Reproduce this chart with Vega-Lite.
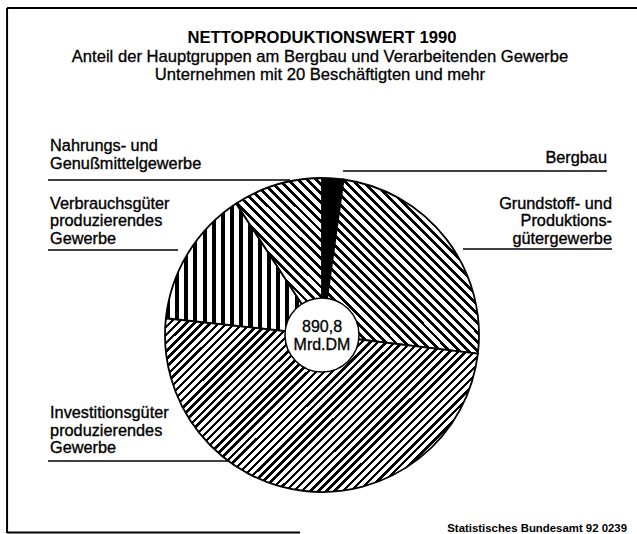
{
"$schema":"https://vega.github.io/schema/vega-lite/v6.json",
"width":314,"height":314,"autosize":"none",
"padding":{"left":165,"top":178,"right":158,"bottom":42},
"background":"#ffffff",
"config":{"view":{"stroke":null},"font":"Liberation Sans"},
"data":{"values":[
{"nr":1,"cat":"Bergbau","label":["Bergbau"],"anteil":2.2},
{"nr":2,"cat":"Grundstoff- und Produktionsgütergewerbe","label":["Grundstoff- und","Produktions-","gütergewerbe"],"anteil":24.7},
{"nr":3,"cat":"Investitionsgüter produzierendes Gewerbe","label":["Investitionsgüter","produzierendes","Gewerbe"],"anteil":49.8},
{"nr":4,"cat":"Verbrauchsgüter produzierendes Gewerbe","label":["Verbrauchsgüter","produzierendes","Gewerbe"],"anteil":14.1},
{"nr":5,"cat":"Nahrungs- und Genußmittelgewerbe","label":["Nahrungs- und","Genußmittelgewerbe"],"anteil":9.2}
]},
"layer":[
{"data":{"values":[{}]},"mark":{"type":"rule","stroke":"#000","strokeWidth":2},"encoding":{"x":{"datum":-2.006,"type":"quantitative","scale":{"domain":[-1,1],"nice":false,"zero":false},"axis":null},"y":{"datum":2.083,"type":"quantitative","scale":{"domain":[-1,1],"nice":false,"zero":false},"axis":null},"y2":{"datum":-1.261}}},
{"data":{"values":[{}]},"mark":{"type":"rule","stroke":"#000","strokeWidth":2},"encoding":{"x":{"datum":-2.006,"type":"quantitative","scale":{"domain":[-1,1],"nice":false,"zero":false},"axis":null},"x2":{"datum":2.1},"y":{"datum":2.083,"type":"quantitative","scale":{"domain":[-1,1],"nice":false,"zero":false},"axis":null}}},
{"data":{"values":[{}]},"mark":{"type":"rule","stroke":"#000","strokeWidth":2},"encoding":{"x":{"datum":-2.006,"type":"quantitative","scale":{"domain":[-1,1],"nice":false,"zero":false},"axis":null},"x2":{"datum":-0.14},"y":{"datum":-1.258,"type":"quantitative","scale":{"domain":[-1,1],"nice":false,"zero":false},"axis":null}}},
{"mark":{"type":"arc","stroke":"#000","strokeWidth":1.8},
"encoding":{
"theta":{"field":"anteil","type":"quantitative","stack":true},
"order":{"field":"nr","type":"quantitative"},
"detail":{"field":"cat","type":"nominal"},
"fill":{"condition":[
{"test":"datum.nr === 2","value":{"gradient":"linear","x1":0,"y1":1,"x2":0.946,"y2":-0.048,"stops":[
{"offset":0,"color":"#000"},{"offset":0.012,"color":"#000"},{"offset":0.012,"color":"#fff"},{"offset":0.028,"color":"#fff"},
{"offset":0.028,"color":"#000"},{"offset":0.04,"color":"#000"},{"offset":0.04,"color":"#fff"},{"offset":0.056,"color":"#fff"},
{"offset":0.056,"color":"#000"},{"offset":0.068,"color":"#000"},{"offset":0.068,"color":"#fff"},{"offset":0.083,"color":"#fff"},
{"offset":0.083,"color":"#000"},{"offset":0.095,"color":"#000"},{"offset":0.095,"color":"#fff"},{"offset":0.111,"color":"#fff"},
{"offset":0.111,"color":"#000"},{"offset":0.123,"color":"#000"},{"offset":0.123,"color":"#fff"},{"offset":0.139,"color":"#fff"},
{"offset":0.139,"color":"#000"},{"offset":0.151,"color":"#000"},{"offset":0.151,"color":"#fff"},{"offset":0.167,"color":"#fff"},
{"offset":0.167,"color":"#000"},{"offset":0.179,"color":"#000"},{"offset":0.179,"color":"#fff"},{"offset":0.194,"color":"#fff"},
{"offset":0.194,"color":"#000"},{"offset":0.206,"color":"#000"},{"offset":0.206,"color":"#fff"},{"offset":0.222,"color":"#fff"},
{"offset":0.222,"color":"#000"},{"offset":0.234,"color":"#000"},{"offset":0.234,"color":"#fff"},{"offset":0.25,"color":"#fff"},
{"offset":0.25,"color":"#000"},{"offset":0.262,"color":"#000"},{"offset":0.262,"color":"#fff"},{"offset":0.278,"color":"#fff"},
{"offset":0.278,"color":"#000"},{"offset":0.29,"color":"#000"},{"offset":0.29,"color":"#fff"},{"offset":0.306,"color":"#fff"},
{"offset":0.306,"color":"#000"},{"offset":0.318,"color":"#000"},{"offset":0.318,"color":"#fff"},{"offset":0.333,"color":"#fff"},
{"offset":0.333,"color":"#000"},{"offset":0.345,"color":"#000"},{"offset":0.345,"color":"#fff"},{"offset":0.361,"color":"#fff"},
{"offset":0.361,"color":"#000"},{"offset":0.373,"color":"#000"},{"offset":0.373,"color":"#fff"},{"offset":0.389,"color":"#fff"},
{"offset":0.389,"color":"#000"},{"offset":0.401,"color":"#000"},{"offset":0.401,"color":"#fff"},{"offset":0.417,"color":"#fff"},
{"offset":0.417,"color":"#000"},{"offset":0.429,"color":"#000"},{"offset":0.429,"color":"#fff"},{"offset":0.444,"color":"#fff"},
{"offset":0.444,"color":"#000"},{"offset":0.456,"color":"#000"},{"offset":0.456,"color":"#fff"},{"offset":0.472,"color":"#fff"},
{"offset":0.472,"color":"#000"},{"offset":0.484,"color":"#000"},{"offset":0.484,"color":"#fff"},{"offset":0.5,"color":"#fff"},
{"offset":0.5,"color":"#000"},{"offset":0.512,"color":"#000"},{"offset":0.512,"color":"#fff"},{"offset":0.528,"color":"#fff"},
{"offset":0.528,"color":"#000"},{"offset":0.54,"color":"#000"},{"offset":0.54,"color":"#fff"},{"offset":0.556,"color":"#fff"},
{"offset":0.556,"color":"#000"},{"offset":0.568,"color":"#000"},{"offset":0.568,"color":"#fff"},{"offset":0.583,"color":"#fff"},
{"offset":0.583,"color":"#000"},{"offset":0.595,"color":"#000"},{"offset":0.595,"color":"#fff"},{"offset":0.611,"color":"#fff"},
{"offset":0.611,"color":"#000"},{"offset":0.623,"color":"#000"},{"offset":0.623,"color":"#fff"},{"offset":0.639,"color":"#fff"},
{"offset":0.639,"color":"#000"},{"offset":0.651,"color":"#000"},{"offset":0.651,"color":"#fff"},{"offset":0.667,"color":"#fff"},
{"offset":0.667,"color":"#000"},{"offset":0.679,"color":"#000"},{"offset":0.679,"color":"#fff"},{"offset":0.694,"color":"#fff"},
{"offset":0.694,"color":"#000"},{"offset":0.706,"color":"#000"},{"offset":0.706,"color":"#fff"},{"offset":0.722,"color":"#fff"},
{"offset":0.722,"color":"#000"},{"offset":0.734,"color":"#000"},{"offset":0.734,"color":"#fff"},{"offset":0.75,"color":"#fff"},
{"offset":0.75,"color":"#000"},{"offset":0.762,"color":"#000"},{"offset":0.762,"color":"#fff"},{"offset":0.778,"color":"#fff"},
{"offset":0.778,"color":"#000"},{"offset":0.79,"color":"#000"},{"offset":0.79,"color":"#fff"},{"offset":0.806,"color":"#fff"},
{"offset":0.806,"color":"#000"},{"offset":0.818,"color":"#000"},{"offset":0.818,"color":"#fff"},{"offset":0.833,"color":"#fff"},
{"offset":0.833,"color":"#000"},{"offset":0.845,"color":"#000"},{"offset":0.845,"color":"#fff"},{"offset":0.861,"color":"#fff"},
{"offset":0.861,"color":"#000"},{"offset":0.873,"color":"#000"},{"offset":0.873,"color":"#fff"},{"offset":0.889,"color":"#fff"},
{"offset":0.889,"color":"#000"},{"offset":0.901,"color":"#000"},{"offset":0.901,"color":"#fff"},{"offset":0.917,"color":"#fff"},
{"offset":0.917,"color":"#000"},{"offset":0.929,"color":"#000"},{"offset":0.929,"color":"#fff"},{"offset":0.944,"color":"#fff"},
{"offset":0.944,"color":"#000"},{"offset":0.956,"color":"#000"},{"offset":0.956,"color":"#fff"},{"offset":0.972,"color":"#fff"},
{"offset":0.972,"color":"#000"},{"offset":0.984,"color":"#000"},{"offset":0.984,"color":"#fff"},{"offset":1,"color":"#fff"}
]}},
{"test":"datum.nr === 3","value":{"gradient":"linear","x1":0,"y1":0,"x2":1.189,"y2":0.661,"stops":[
{"offset":0,"color":"#000"},{"offset":0.007,"color":"#000"},{"offset":0.007,"color":"#fff"},{"offset":0.017,"color":"#fff"},
{"offset":0.017,"color":"#000"},{"offset":0.024,"color":"#000"},{"offset":0.024,"color":"#fff"},{"offset":0.033,"color":"#fff"},
{"offset":0.033,"color":"#000"},{"offset":0.04,"color":"#000"},{"offset":0.04,"color":"#fff"},{"offset":0.05,"color":"#fff"},
{"offset":0.05,"color":"#000"},{"offset":0.057,"color":"#000"},{"offset":0.057,"color":"#fff"},{"offset":0.067,"color":"#fff"},
{"offset":0.067,"color":"#000"},{"offset":0.074,"color":"#000"},{"offset":0.074,"color":"#fff"},{"offset":0.083,"color":"#fff"},
{"offset":0.083,"color":"#000"},{"offset":0.09,"color":"#000"},{"offset":0.09,"color":"#fff"},{"offset":0.1,"color":"#fff"},
{"offset":0.1,"color":"#000"},{"offset":0.107,"color":"#000"},{"offset":0.107,"color":"#fff"},{"offset":0.117,"color":"#fff"},
{"offset":0.117,"color":"#000"},{"offset":0.124,"color":"#000"},{"offset":0.124,"color":"#fff"},{"offset":0.133,"color":"#fff"},
{"offset":0.133,"color":"#000"},{"offset":0.14,"color":"#000"},{"offset":0.14,"color":"#fff"},{"offset":0.15,"color":"#fff"},
{"offset":0.15,"color":"#000"},{"offset":0.157,"color":"#000"},{"offset":0.157,"color":"#fff"},{"offset":0.167,"color":"#fff"},
{"offset":0.167,"color":"#000"},{"offset":0.174,"color":"#000"},{"offset":0.174,"color":"#fff"},{"offset":0.183,"color":"#fff"},
{"offset":0.183,"color":"#000"},{"offset":0.19,"color":"#000"},{"offset":0.19,"color":"#fff"},{"offset":0.2,"color":"#fff"},
{"offset":0.2,"color":"#000"},{"offset":0.207,"color":"#000"},{"offset":0.207,"color":"#fff"},{"offset":0.217,"color":"#fff"},
{"offset":0.217,"color":"#000"},{"offset":0.224,"color":"#000"},{"offset":0.224,"color":"#fff"},{"offset":0.233,"color":"#fff"},
{"offset":0.233,"color":"#000"},{"offset":0.24,"color":"#000"},{"offset":0.24,"color":"#fff"},{"offset":0.25,"color":"#fff"},
{"offset":0.25,"color":"#000"},{"offset":0.257,"color":"#000"},{"offset":0.257,"color":"#fff"},{"offset":0.267,"color":"#fff"},
{"offset":0.267,"color":"#000"},{"offset":0.274,"color":"#000"},{"offset":0.274,"color":"#fff"},{"offset":0.283,"color":"#fff"},
{"offset":0.283,"color":"#000"},{"offset":0.29,"color":"#000"},{"offset":0.29,"color":"#fff"},{"offset":0.3,"color":"#fff"},
{"offset":0.3,"color":"#000"},{"offset":0.307,"color":"#000"},{"offset":0.307,"color":"#fff"},{"offset":0.317,"color":"#fff"},
{"offset":0.317,"color":"#000"},{"offset":0.324,"color":"#000"},{"offset":0.324,"color":"#fff"},{"offset":0.333,"color":"#fff"},
{"offset":0.333,"color":"#000"},{"offset":0.34,"color":"#000"},{"offset":0.34,"color":"#fff"},{"offset":0.35,"color":"#fff"},
{"offset":0.35,"color":"#000"},{"offset":0.357,"color":"#000"},{"offset":0.357,"color":"#fff"},{"offset":0.367,"color":"#fff"},
{"offset":0.367,"color":"#000"},{"offset":0.374,"color":"#000"},{"offset":0.374,"color":"#fff"},{"offset":0.383,"color":"#fff"},
{"offset":0.383,"color":"#000"},{"offset":0.39,"color":"#000"},{"offset":0.39,"color":"#fff"},{"offset":0.4,"color":"#fff"},
{"offset":0.4,"color":"#000"},{"offset":0.407,"color":"#000"},{"offset":0.407,"color":"#fff"},{"offset":0.417,"color":"#fff"},
{"offset":0.417,"color":"#000"},{"offset":0.424,"color":"#000"},{"offset":0.424,"color":"#fff"},{"offset":0.433,"color":"#fff"},
{"offset":0.433,"color":"#000"},{"offset":0.44,"color":"#000"},{"offset":0.44,"color":"#fff"},{"offset":0.45,"color":"#fff"},
{"offset":0.45,"color":"#000"},{"offset":0.457,"color":"#000"},{"offset":0.457,"color":"#fff"},{"offset":0.467,"color":"#fff"},
{"offset":0.467,"color":"#000"},{"offset":0.474,"color":"#000"},{"offset":0.474,"color":"#fff"},{"offset":0.483,"color":"#fff"},
{"offset":0.483,"color":"#000"},{"offset":0.49,"color":"#000"},{"offset":0.49,"color":"#fff"},{"offset":0.5,"color":"#fff"},
{"offset":0.5,"color":"#000"},{"offset":0.507,"color":"#000"},{"offset":0.507,"color":"#fff"},{"offset":0.517,"color":"#fff"},
{"offset":0.517,"color":"#000"},{"offset":0.524,"color":"#000"},{"offset":0.524,"color":"#fff"},{"offset":0.533,"color":"#fff"},
{"offset":0.533,"color":"#000"},{"offset":0.54,"color":"#000"},{"offset":0.54,"color":"#fff"},{"offset":0.55,"color":"#fff"},
{"offset":0.55,"color":"#000"},{"offset":0.557,"color":"#000"},{"offset":0.557,"color":"#fff"},{"offset":0.567,"color":"#fff"},
{"offset":0.567,"color":"#000"},{"offset":0.574,"color":"#000"},{"offset":0.574,"color":"#fff"},{"offset":0.583,"color":"#fff"},
{"offset":0.583,"color":"#000"},{"offset":0.59,"color":"#000"},{"offset":0.59,"color":"#fff"},{"offset":0.6,"color":"#fff"},
{"offset":0.6,"color":"#000"},{"offset":0.607,"color":"#000"},{"offset":0.607,"color":"#fff"},{"offset":0.617,"color":"#fff"},
{"offset":0.617,"color":"#000"},{"offset":0.624,"color":"#000"},{"offset":0.624,"color":"#fff"},{"offset":0.633,"color":"#fff"},
{"offset":0.633,"color":"#000"},{"offset":0.64,"color":"#000"},{"offset":0.64,"color":"#fff"},{"offset":0.65,"color":"#fff"},
{"offset":0.65,"color":"#000"},{"offset":0.657,"color":"#000"},{"offset":0.657,"color":"#fff"},{"offset":0.667,"color":"#fff"},
{"offset":0.667,"color":"#000"},{"offset":0.674,"color":"#000"},{"offset":0.674,"color":"#fff"},{"offset":0.683,"color":"#fff"},
{"offset":0.683,"color":"#000"},{"offset":0.69,"color":"#000"},{"offset":0.69,"color":"#fff"},{"offset":0.7,"color":"#fff"},
{"offset":0.7,"color":"#000"},{"offset":0.707,"color":"#000"},{"offset":0.707,"color":"#fff"},{"offset":0.717,"color":"#fff"},
{"offset":0.717,"color":"#000"},{"offset":0.724,"color":"#000"},{"offset":0.724,"color":"#fff"},{"offset":0.733,"color":"#fff"},
{"offset":0.733,"color":"#000"},{"offset":0.74,"color":"#000"},{"offset":0.74,"color":"#fff"},{"offset":0.75,"color":"#fff"},
{"offset":0.75,"color":"#000"},{"offset":0.757,"color":"#000"},{"offset":0.757,"color":"#fff"},{"offset":0.767,"color":"#fff"},
{"offset":0.767,"color":"#000"},{"offset":0.774,"color":"#000"},{"offset":0.774,"color":"#fff"},{"offset":0.783,"color":"#fff"},
{"offset":0.783,"color":"#000"},{"offset":0.79,"color":"#000"},{"offset":0.79,"color":"#fff"},{"offset":0.8,"color":"#fff"},
{"offset":0.8,"color":"#000"},{"offset":0.807,"color":"#000"},{"offset":0.807,"color":"#fff"},{"offset":0.817,"color":"#fff"},
{"offset":0.817,"color":"#000"},{"offset":0.824,"color":"#000"},{"offset":0.824,"color":"#fff"},{"offset":0.833,"color":"#fff"},
{"offset":0.833,"color":"#000"},{"offset":0.84,"color":"#000"},{"offset":0.84,"color":"#fff"},{"offset":0.85,"color":"#fff"},
{"offset":0.85,"color":"#000"},{"offset":0.857,"color":"#000"},{"offset":0.857,"color":"#fff"},{"offset":0.867,"color":"#fff"},
{"offset":0.867,"color":"#000"},{"offset":0.874,"color":"#000"},{"offset":0.874,"color":"#fff"},{"offset":0.883,"color":"#fff"},
{"offset":0.883,"color":"#000"},{"offset":0.89,"color":"#000"},{"offset":0.89,"color":"#fff"},{"offset":0.9,"color":"#fff"},
{"offset":0.9,"color":"#000"},{"offset":0.907,"color":"#000"},{"offset":0.907,"color":"#fff"},{"offset":0.917,"color":"#fff"},
{"offset":0.917,"color":"#000"},{"offset":0.924,"color":"#000"},{"offset":0.924,"color":"#fff"},{"offset":0.933,"color":"#fff"},
{"offset":0.933,"color":"#000"},{"offset":0.94,"color":"#000"},{"offset":0.94,"color":"#fff"},{"offset":0.95,"color":"#fff"},
{"offset":0.95,"color":"#000"},{"offset":0.957,"color":"#000"},{"offset":0.957,"color":"#fff"},{"offset":0.967,"color":"#fff"},
{"offset":0.967,"color":"#000"},{"offset":0.974,"color":"#000"},{"offset":0.974,"color":"#fff"},{"offset":0.983,"color":"#fff"},
{"offset":0.983,"color":"#000"},{"offset":0.99,"color":"#000"},{"offset":0.99,"color":"#fff"},{"offset":1,"color":"#fff"}
]}},
{"test":"datum.nr === 4","value":{"gradient":"linear","x1":0,"y1":0,"x2":1,"y2":0,"stops":[
{"offset":0,"color":"#000"},{"offset":0.026,"color":"#000"},{"offset":0.026,"color":"#fff"},{"offset":0.059,"color":"#fff"},
{"offset":0.059,"color":"#000"},{"offset":0.085,"color":"#000"},{"offset":0.085,"color":"#fff"},{"offset":0.118,"color":"#fff"},
{"offset":0.118,"color":"#000"},{"offset":0.144,"color":"#000"},{"offset":0.144,"color":"#fff"},{"offset":0.176,"color":"#fff"},
{"offset":0.176,"color":"#000"},{"offset":0.202,"color":"#000"},{"offset":0.202,"color":"#fff"},{"offset":0.235,"color":"#fff"},
{"offset":0.235,"color":"#000"},{"offset":0.261,"color":"#000"},{"offset":0.261,"color":"#fff"},{"offset":0.294,"color":"#fff"},
{"offset":0.294,"color":"#000"},{"offset":0.32,"color":"#000"},{"offset":0.32,"color":"#fff"},{"offset":0.353,"color":"#fff"},
{"offset":0.353,"color":"#000"},{"offset":0.379,"color":"#000"},{"offset":0.379,"color":"#fff"},{"offset":0.412,"color":"#fff"},
{"offset":0.412,"color":"#000"},{"offset":0.438,"color":"#000"},{"offset":0.438,"color":"#fff"},{"offset":0.471,"color":"#fff"},
{"offset":0.471,"color":"#000"},{"offset":0.497,"color":"#000"},{"offset":0.497,"color":"#fff"},{"offset":0.529,"color":"#fff"},
{"offset":0.529,"color":"#000"},{"offset":0.555,"color":"#000"},{"offset":0.555,"color":"#fff"},{"offset":0.588,"color":"#fff"},
{"offset":0.588,"color":"#000"},{"offset":0.614,"color":"#000"},{"offset":0.614,"color":"#fff"},{"offset":0.647,"color":"#fff"},
{"offset":0.647,"color":"#000"},{"offset":0.673,"color":"#000"},{"offset":0.673,"color":"#fff"},{"offset":0.706,"color":"#fff"},
{"offset":0.706,"color":"#000"},{"offset":0.732,"color":"#000"},{"offset":0.732,"color":"#fff"},{"offset":0.765,"color":"#fff"},
{"offset":0.765,"color":"#000"},{"offset":0.791,"color":"#000"},{"offset":0.791,"color":"#fff"},{"offset":0.824,"color":"#fff"},
{"offset":0.824,"color":"#000"},{"offset":0.85,"color":"#000"},{"offset":0.85,"color":"#fff"},{"offset":0.882,"color":"#fff"},
{"offset":0.882,"color":"#000"},{"offset":0.908,"color":"#000"},{"offset":0.908,"color":"#fff"},{"offset":0.941,"color":"#fff"},
{"offset":0.941,"color":"#000"},{"offset":0.967,"color":"#000"},{"offset":0.967,"color":"#fff"},{"offset":1,"color":"#fff"}
]}},
{"test":"datum.nr === 5","value":{"gradient":"linear","x1":0,"y1":1,"x2":0.649,"y2":-0.192,"stops":[
{"offset":0,"color":"#000"},{"offset":0.016,"color":"#000"},{"offset":0.016,"color":"#fff"},{"offset":0.038,"color":"#fff"},
{"offset":0.038,"color":"#000"},{"offset":0.054,"color":"#000"},{"offset":0.054,"color":"#fff"},{"offset":0.077,"color":"#fff"},
{"offset":0.077,"color":"#000"},{"offset":0.093,"color":"#000"},{"offset":0.093,"color":"#fff"},{"offset":0.115,"color":"#fff"},
{"offset":0.115,"color":"#000"},{"offset":0.131,"color":"#000"},{"offset":0.131,"color":"#fff"},{"offset":0.154,"color":"#fff"},
{"offset":0.154,"color":"#000"},{"offset":0.17,"color":"#000"},{"offset":0.17,"color":"#fff"},{"offset":0.192,"color":"#fff"},
{"offset":0.192,"color":"#000"},{"offset":0.208,"color":"#000"},{"offset":0.208,"color":"#fff"},{"offset":0.231,"color":"#fff"},
{"offset":0.231,"color":"#000"},{"offset":0.247,"color":"#000"},{"offset":0.247,"color":"#fff"},{"offset":0.269,"color":"#fff"},
{"offset":0.269,"color":"#000"},{"offset":0.285,"color":"#000"},{"offset":0.285,"color":"#fff"},{"offset":0.308,"color":"#fff"},
{"offset":0.308,"color":"#000"},{"offset":0.324,"color":"#000"},{"offset":0.324,"color":"#fff"},{"offset":0.346,"color":"#fff"},
{"offset":0.346,"color":"#000"},{"offset":0.362,"color":"#000"},{"offset":0.362,"color":"#fff"},{"offset":0.385,"color":"#fff"},
{"offset":0.385,"color":"#000"},{"offset":0.401,"color":"#000"},{"offset":0.401,"color":"#fff"},{"offset":0.423,"color":"#fff"},
{"offset":0.423,"color":"#000"},{"offset":0.439,"color":"#000"},{"offset":0.439,"color":"#fff"},{"offset":0.462,"color":"#fff"},
{"offset":0.462,"color":"#000"},{"offset":0.478,"color":"#000"},{"offset":0.478,"color":"#fff"},{"offset":0.5,"color":"#fff"},
{"offset":0.5,"color":"#000"},{"offset":0.516,"color":"#000"},{"offset":0.516,"color":"#fff"},{"offset":0.538,"color":"#fff"},
{"offset":0.538,"color":"#000"},{"offset":0.554,"color":"#000"},{"offset":0.554,"color":"#fff"},{"offset":0.577,"color":"#fff"},
{"offset":0.577,"color":"#000"},{"offset":0.593,"color":"#000"},{"offset":0.593,"color":"#fff"},{"offset":0.615,"color":"#fff"},
{"offset":0.615,"color":"#000"},{"offset":0.631,"color":"#000"},{"offset":0.631,"color":"#fff"},{"offset":0.654,"color":"#fff"},
{"offset":0.654,"color":"#000"},{"offset":0.67,"color":"#000"},{"offset":0.67,"color":"#fff"},{"offset":0.692,"color":"#fff"},
{"offset":0.692,"color":"#000"},{"offset":0.708,"color":"#000"},{"offset":0.708,"color":"#fff"},{"offset":0.731,"color":"#fff"},
{"offset":0.731,"color":"#000"},{"offset":0.747,"color":"#000"},{"offset":0.747,"color":"#fff"},{"offset":0.769,"color":"#fff"},
{"offset":0.769,"color":"#000"},{"offset":0.785,"color":"#000"},{"offset":0.785,"color":"#fff"},{"offset":0.808,"color":"#fff"},
{"offset":0.808,"color":"#000"},{"offset":0.824,"color":"#000"},{"offset":0.824,"color":"#fff"},{"offset":0.846,"color":"#fff"},
{"offset":0.846,"color":"#000"},{"offset":0.862,"color":"#000"},{"offset":0.862,"color":"#fff"},{"offset":0.885,"color":"#fff"},
{"offset":0.885,"color":"#000"},{"offset":0.901,"color":"#000"},{"offset":0.901,"color":"#fff"},{"offset":0.923,"color":"#fff"},
{"offset":0.923,"color":"#000"},{"offset":0.939,"color":"#000"},{"offset":0.939,"color":"#fff"},{"offset":0.962,"color":"#fff"},
{"offset":0.962,"color":"#000"},{"offset":0.978,"color":"#000"},{"offset":0.978,"color":"#fff"},{"offset":1,"color":"#fff"}
]}}
],"value":"#000"}
}},
{"data":{"values":[{}]},"mark":{"type":"point","shape":"circle","filled":true,"fill":"#fff","stroke":"#000","strokeWidth":1.5,"size":5476,"opacity":1},"encoding":{}},
{"data":{"values":[{}]},"mark":{"type":"text","text":["890,8","Mrd.DM"],"fontSize":16,"lineHeight":18,"align":"center","baseline":"middle","dy":-8,"color":"#000","stroke":"#000","strokeWidth":0.3},"encoding":{}},
{"data":{"values":[{}]},"mark":{"type":"rule","stroke":"#000","strokeWidth":1.5},"encoding":{"x":{"datum":-1.745,"type":"quantitative","scale":{"domain":[-1,1],"nice":false,"zero":false},"axis":null},"x2":{"datum":-0.204},"y":{"datum":0.987,"type":"quantitative","scale":{"domain":[-1,1],"nice":false,"zero":false},"axis":null}}},
{"data":{"values":[{}]},"mark":{"type":"rule","stroke":"#000","strokeWidth":1.5},"encoding":{"x":{"datum":-1.745,"type":"quantitative","scale":{"domain":[-1,1],"nice":false,"zero":false},"axis":null},"x2":{"datum":-0.917},"y":{"datum":0.541,"type":"quantitative","scale":{"domain":[-1,1],"nice":false,"zero":false},"axis":null}}},
{"data":{"values":[{}]},"mark":{"type":"rule","stroke":"#000","strokeWidth":1.5},"encoding":{"x":{"datum":-1.745,"type":"quantitative","scale":{"domain":[-1,1],"nice":false,"zero":false},"axis":null},"x2":{"datum":-0.599},"y":{"datum":-0.803,"type":"quantitative","scale":{"domain":[-1,1],"nice":false,"zero":false},"axis":null}}},
{"data":{"values":[{}]},"mark":{"type":"rule","stroke":"#000","strokeWidth":1.5},"encoding":{"x":{"datum":0.134,"type":"quantitative","scale":{"domain":[-1,1],"nice":false,"zero":false},"axis":null},"x2":{"datum":1.815},"y":{"datum":1.045,"type":"quantitative","scale":{"domain":[-1,1],"nice":false,"zero":false},"axis":null}}},
{"data":{"values":[{}]},"mark":{"type":"rule","stroke":"#000","strokeWidth":1.5},"encoding":{"x":{"datum":0.898,"type":"quantitative","scale":{"domain":[-1,1],"nice":false,"zero":false},"axis":null},"x2":{"datum":1.847},"y":{"datum":0.548,"type":"quantitative","scale":{"domain":[-1,1],"nice":false,"zero":false},"axis":null}}},
{"transform":[{"filter":"datum.nr === 5"}],"mark":{"type":"text","align":"left","baseline":"alphabetic","fontSize":16.3,"lineHeight":18.5,"color":"#000","stroke":"#000","strokeWidth":0.35},"encoding":{"text":{"field":"label","type":"nominal"},"x":{"datum":-1.732,"type":"quantitative","scale":{"domain":[-1,1],"nice":false,"zero":false},"axis":null},"y":{"datum":1.174,"type":"quantitative","scale":{"domain":[-1,1],"nice":false,"zero":false},"axis":null}}},
{"transform":[{"filter":"datum.nr === 4"}],"mark":{"type":"text","align":"left","baseline":"alphabetic","fontSize":16.3,"lineHeight":17.5,"color":"#000","stroke":"#000","strokeWidth":0.35},"encoding":{"text":{"field":"label","type":"nominal"},"x":{"datum":-1.732,"type":"quantitative","scale":{"domain":[-1,1],"nice":false,"zero":false},"axis":null},"y":{"datum":0.803,"type":"quantitative","scale":{"domain":[-1,1],"nice":false,"zero":false},"axis":null}}},
{"transform":[{"filter":"datum.nr === 3"}],"mark":{"type":"text","align":"left","baseline":"alphabetic","fontSize":16.3,"lineHeight":17.5,"color":"#000","stroke":"#000","strokeWidth":0.35},"encoding":{"text":{"field":"label","type":"nominal"},"x":{"datum":-1.732,"type":"quantitative","scale":{"domain":[-1,1],"nice":false,"zero":false},"axis":null},"y":{"datum":-0.529,"type":"quantitative","scale":{"domain":[-1,1],"nice":false,"zero":false},"axis":null}}},
{"transform":[{"filter":"datum.nr === 1"}],"mark":{"type":"text","align":"right","baseline":"alphabetic","fontSize":16.3,"lineHeight":17.5,"color":"#000","stroke":"#000","strokeWidth":0.35},"encoding":{"text":{"field":"label","type":"nominal"},"x":{"datum":1.815,"type":"quantitative","scale":{"domain":[-1,1],"nice":false,"zero":false},"axis":null},"y":{"datum":1.096,"type":"quantitative","scale":{"domain":[-1,1],"nice":false,"zero":false},"axis":null}}},
{"transform":[{"filter":"datum.nr === 2"}],"mark":{"type":"text","align":"right","baseline":"alphabetic","fontSize":16.3,"lineHeight":17.5,"color":"#000","stroke":"#000","strokeWidth":0.35},"encoding":{"text":{"field":"label","type":"nominal"},"x":{"datum":1.847,"type":"quantitative","scale":{"domain":[-1,1],"nice":false,"zero":false},"axis":null},"y":{"datum":0.803,"type":"quantitative","scale":{"domain":[-1,1],"nice":false,"zero":false},"axis":null}}},
{"data":{"values":[{}]},"mark":{"type":"text","text":"NETTOPRODUKTIONSWERT 1990","align":"center","baseline":"alphabetic","fontSize":16.6,"fontWeight":"bold","color":"#000"},"encoding":{"x":{"datum":0,"type":"quantitative","scale":{"domain":[-1,1],"nice":false,"zero":false},"axis":null},"y":{"datum":1.86,"type":"quantitative","scale":{"domain":[-1,1],"nice":false,"zero":false},"axis":null}}},
{"data":{"values":[{}]},"mark":{"type":"text","text":["Anteil der Hauptgruppen am Bergbau und Verarbeitenden Gewerbe","Unternehmen mit 20 Beschäftigten und mehr"],"align":"center","baseline":"alphabetic","fontSize":16.6,"lineHeight":18.5,"color":"#000","stroke":"#000","strokeWidth":0.3},"encoding":{"x":{"datum":-0.013,"type":"quantitative","scale":{"domain":[-1,1],"nice":false,"zero":false},"axis":null},"y":{"datum":1.739,"type":"quantitative","scale":{"domain":[-1,1],"nice":false,"zero":false},"axis":null}}},
{"data":{"values":[{}]},"mark":{"type":"text","text":"Statistisches Bundesamt 92 0239","align":"right","baseline":"alphabetic","fontSize":11.4,"fontWeight":"bold","color":"#000"},"encoding":{"x":{"datum":1.943,"type":"quantitative","scale":{"domain":[-1,1],"nice":false,"zero":false},"axis":null},"y":{"datum":-1.255,"type":"quantitative","scale":{"domain":[-1,1],"nice":false,"zero":false},"axis":null}}}
]
}
